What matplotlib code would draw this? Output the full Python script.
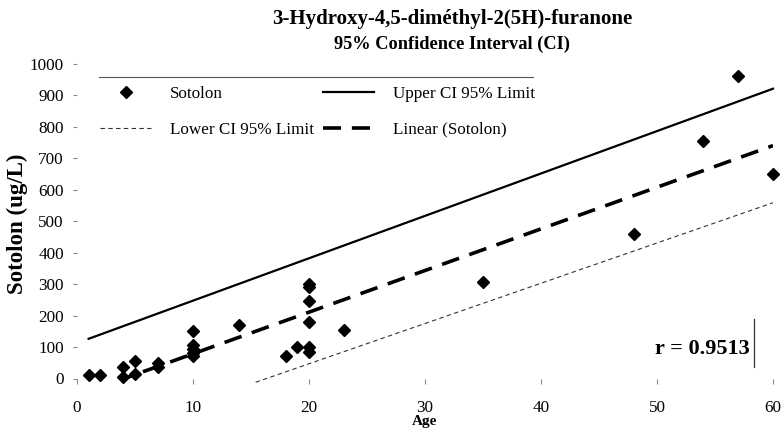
import matplotlib
matplotlib.use('Agg')
import matplotlib.pyplot as plt
import numpy as np
from matplotlib.lines import Line2D

plt.rcParams['font.family'] = ['Liberation Serif', 'DejaVu Serif']

# Sotolon measurements (age in years, ug/L)
age = [1, 2, 4, 4, 5, 5, 7, 7, 10, 10, 10, 10, 10, 14, 18, 19,
       20, 20, 20, 20, 20, 20, 23, 35, 48, 54, 57, 60]
sotolon = [10, 10, 35, 5, 15, 55, 50, 35, 150, 105, 95, 80, 70, 170, 70, 100,
           300, 290, 245, 180, 100, 85, 155, 305, 460, 755, 960, 650]

# confidence limits (straight lines)
upper_age = [1, 60]
upper_val = [126, 920]
lower_age = [15.4, 60]
lower_val = [-12, 558]

xticks = [0, 10, 20, 30, 40, 50, 60]
yticks = [0, 100, 200, 300, 400, 500, 600, 700, 800, 900, 1000]

W, H = 782, 432
fig = plt.figure(figsize=(W / 100, H / 100), dpi=100)
ax = fig.add_axes([77 / W, 1 - 378.5 / H, 696 / W, 315 / H])

# Régression linéaire (tendance)
a, b = np.polyfit(age, sotolon, 1)
xt = np.array([min(age), max(age)])

ax.plot(age, sotolon, 'D', color='black', markersize=6.5, linestyle='none',
        label='Sotolon', clip_on=False)
ax.plot(lower_age, lower_val, color='#333333', lw=0.8, linestyle=(0, (4, 3)),
        label='Lower CI 95% Limit', clip_on=False)
ax.plot(upper_age, upper_val, color='black', lw=1.6, label='Upper CI 95% Limit',
        clip_on=False)
ax.plot(xt, a * xt + b, color='black', lw=2.6, linestyle=(0, (5, 3)),
        label='Linear (Sotolon)')

ax.set_xlim(0, 60)
ax.set_ylim(0, 1000)
ax.set_xticks(xticks)
ax.set_yticks(yticks)
for s in ax.spines.values():
    s.set_visible(False)
ax.tick_params(axis='y', length=3, width=0.8, color='#888888', pad=6.5,
               labelsize=12.3)
ax.tick_params(axis='x', length=3.5, width=0.8, color='#888888', pad=12,
               labelsize=12.3)

# Légende
leg = ax.legend(ncol=2, frameon=False, fontsize=12.3, loc='upper left',
                bbox_to_anchor=(100 / W, 1 - 86 / H),
                bbox_transform=fig.transFigure, borderpad=0, borderaxespad=0,
                handlelength=3.0, handletextpad=1.1, columnspacing=0.5,
                labelspacing=1.15)
fig.add_artist(Line2D([99 / W, 533 / W], [1 - 77 / H, 1 - 77 / H],
                      color='#555555', lw=0.8))

# Titres
fig.text(452 / W, 1 - 19 / H, '3-Hydroxy-4,5-diméthyl-2(5H)-furanone',
         ha='center', va='center', fontsize=15, fontweight='bold')
fig.text(452 / W, 1 - 44 / H, '95% Confidence Interval (CI)',
         ha='center', va='center', fontsize=13.2, fontweight='bold')
fig.text(425 / W, 1 - 421 / H, 'Age', ha='center', va='center',
         fontsize=11, fontweight='bold')
fig.text(17 / W, 1 - 224 / H, 'Sotolon (ug/L)', ha='center', va='center',
         rotation=90, fontsize=16.5, fontweight='bold')

# Coefficient de corrélation
fig.text(750 / W, 1 - 349 / H, 'r = 0.9513', ha='right', va='center',
         fontsize=16, fontweight='bold')
fig.add_artist(Line2D([754 / W, 754 / W], [1 - 319 / H, 1 - 367 / H],
                      color='#333333', lw=0.9))

plt.savefig('out.png', dpi=100)
